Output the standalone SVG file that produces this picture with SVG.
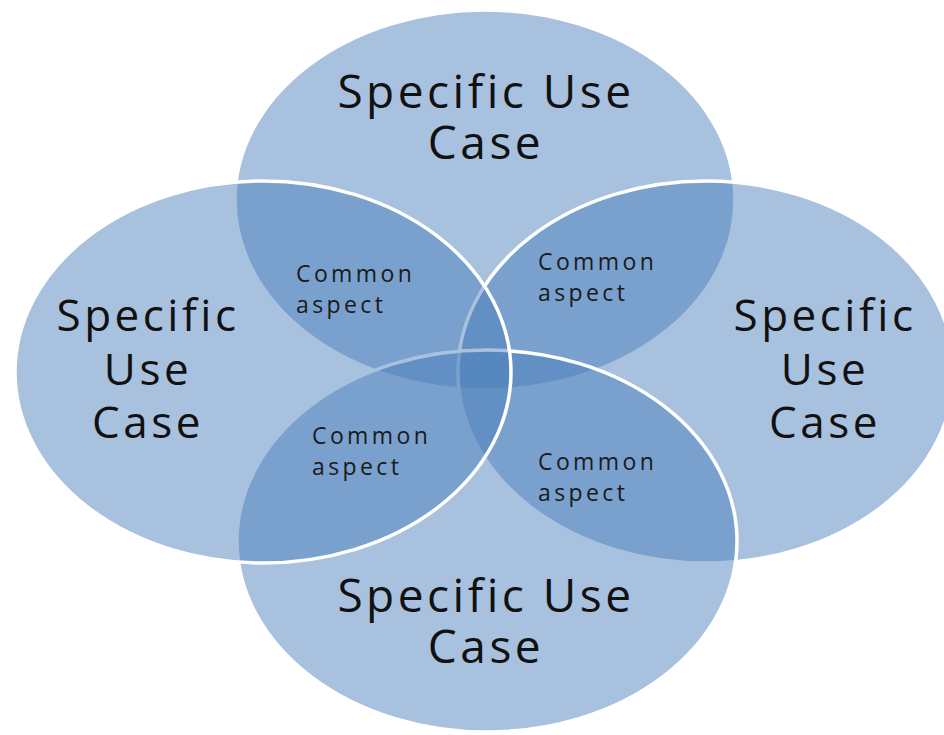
<svg xmlns="http://www.w3.org/2000/svg" width="944" height="735" viewBox="0 0 944 735">
  <style>
    .circ { fill: #4A7EBB; fill-opacity: 0.48; stroke: #FFFFFF; stroke-width: 3.5; }
    .big { font-family: "Open Sans", "Noto Sans", sans-serif; font-size: 46px; letter-spacing: 3.5px; fill: #111111; text-anchor: middle; }
    .side { font-size: 44px; }
    .small { font-family: "Open Sans", "Noto Sans", sans-serif; font-size: 23px; letter-spacing: 3.4px; fill: #1a1a1a; }
  </style>
  <rect width="944" height="735" fill="#FFFFFF"/>
  <g id="shapes">
    <g id="node-top"><ellipse class="circ" cx="485" cy="200" rx="250" ry="190"/></g>
    <g id="node-right"><ellipse class="circ" cx="706" cy="372" rx="248" ry="191"/></g>
    <g id="node-bottom"><ellipse class="circ" cx="487" cy="541" rx="250" ry="191"/></g>
    <g id="node-left"><ellipse class="circ" cx="263" cy="372" rx="248" ry="191"/></g>
  </g>
  <g id="labels">
    <g id="label-top">
      <text class="big" x="486" y="108">Specific Use</text>
      <text class="big" x="486" y="159">Case</text>
    </g>
    <g id="label-left">
      <text class="big side" x="148" y="331">Specific</text>
      <text class="big side" x="148" y="385">Use</text>
      <text class="big side" x="148" y="438">Case</text>
    </g>
    <g id="label-right">
      <text class="big side" x="825" y="331">Specific</text>
      <text class="big side" x="825" y="385">Use</text>
      <text class="big side" x="825" y="438">Case</text>
    </g>
    <g id="label-bottom">
      <text class="big" x="486" y="612">Specific Use</text>
      <text class="big" x="486" y="663">Case</text>
    </g>
  </g>
  <g id="node-common-top-left">
    <text class="small" x="296" y="282">Common</text>
    <text class="small" x="296" y="313">aspect</text>
  </g>
  <g id="node-common-top-right">
    <text class="small" x="538" y="270">Common</text>
    <text class="small" x="538" y="301">aspect</text>
  </g>
  <g id="node-common-bottom-left">
    <text class="small" x="312" y="444">Common</text>
    <text class="small" x="312" y="475">aspect</text>
  </g>
  <g id="node-common-bottom-right">
    <text class="small" x="538" y="470">Common</text>
    <text class="small" x="538" y="501">aspect</text>
  </g>
</svg>
